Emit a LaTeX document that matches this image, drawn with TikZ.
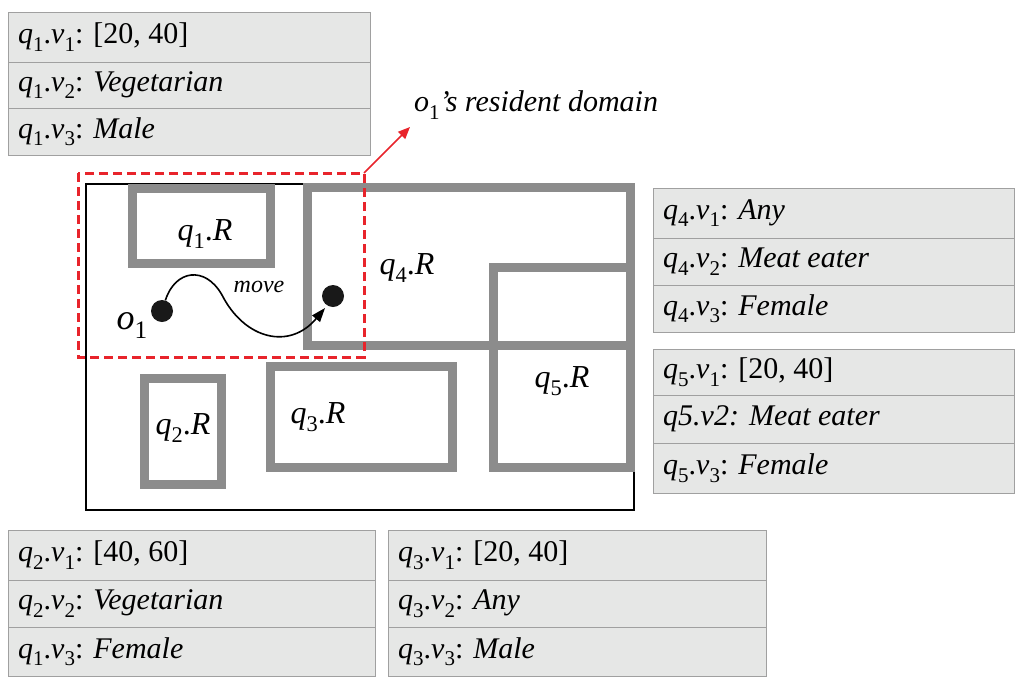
\documentclass[tikz,border=0pt]{standalone}
\usepackage{fontspec}
\setmainfont{Liberation Serif}
\usetikzlibrary{arrows.meta}
\definecolor{tbl}{HTML}{E6E7E6}
\definecolor{tbd}{HTML}{A0A0A0}
\definecolor{reg}{HTML}{8C8C8C}
\definecolor{rd}{HTML}{E8242B}
\newcommand{\sbs}[1]{\raisebox{-0.25em}{\scalebox{0.7}{\upshape #1}}}
\newcommand{\qv}[2]{\textit{q}\sbs{#1}.\textit{v}\sbs{#2}}
\newcommand{\qr}[1]{\textit{q}\sbs{#1}.\textit{R}}
\begin{document}
\begin{tikzpicture}[x=1pt,y=-1pt,
 cell/.style={draw=tbd,fill=tbl,line width=1pt},
 ct/.style={anchor=west,font=\fontsize{30}{30}\selectfont,inner sep=0},
 reg/.style={draw=reg,line width=9pt},
 lab/.style={font=\fontsize{32}{32}\selectfont,inner sep=0},
 dot/.style={circle,fill=black!90,minimum size=22pt,inner sep=0}]
\useasboundingbox (0,0) rectangle (1024,683);
\newcommand{\tblrow}[6]{\draw[cell] (#1,#3) rectangle (#2,#4);
 \node[ct] (#6) at ({#1+10},{(#3+#4)/2}) {#5};}
\tblrow{8}{370}{12}{62}{\qv11: [20, 40]}{t11}
\tblrow{8}{370}{62}{108}{\qv12: \textit{Vegetarian}}{t12}
\tblrow{8}{370}{108}{155}{\qv13: \textit{Male}}{t13}
\tblrow{653}{1014}{188}{238}{\qv41: \textit{Any}}{t41}
\tblrow{653}{1014}{238}{285}{\qv42: \textit{Meat eater}}{t42}
\tblrow{653}{1014}{285}{332}{\qv43: \textit{Female}}{t43}
\tblrow{653}{1014}{349}{395}{\qv51: [20, 40]}{t51}
\tblrow{653}{1014}{395}{443}{\textit{q5.v2: Meat eater}}{t52}
\tblrow{653}{1014}{443}{493}{\qv53: \textit{Female}}{t53}
\tblrow{8}{375}{530}{580}{\qv21: [40, 60]}{t21}
\tblrow{8}{375}{580}{627}{\qv22: \textit{Vegetarian}}{t22}
\tblrow{8}{375}{627}{676}{\qv13: \textit{Female}}{t23}
\tblrow{388}{766}{530}{580}{\qv31: [20, 40]}{t31}
\tblrow{388}{766}{580}{627}{\qv32: \textit{Any}}{t32}
\tblrow{388}{766}{627}{676}{\qv33: \textit{Male}}{t33}
\draw[line width=2.5pt] (86,184) rectangle (634,510);
\draw[reg] (132,188) rectangle (270,263);
\draw[reg] (307,187) rectangle (630,345);
\draw[reg] (493,267) rectangle (630,467);
\draw[reg] (144,378) rectangle (221,484);
\draw[reg] (270,366) rectangle (452,467);
\node[lab] (r1) at (205,234) {\qr1};
\node[lab] (r4) at (407,268) {\qr4};
\node[lab] (r5) at (562,381) {\qr5};
\node[lab] (r2) at (183,428) {\qr2};
\node[lab] (r3) at (318,417) {\qr3};
\draw[rd,line width=3pt,dash pattern=on 9pt off 5pt] (78,173) rectangle (364,357);
\coordinate (rc) at (364,173);
\node[anchor=west,inner sep=0,font=\fontsize{30}{30}\selectfont\itshape] (rdl) at (414,105) {o\sbs{1}'s resident domain};
\draw[rd,line width=1.5pt,-{Triangle[length=12pt,width=10pt]}] (rc) -- (410,127);
\node[dot] (o1) at (162,311) {};
\node[dot] (o2) at (333,296) {};
\node[inner sep=0,font=\fontsize{36}{36}\selectfont\itshape] (o1l) at (132,326) {o\sbs{1}};
\draw[line width=1.6pt,-{Triangle[length=14pt,width=10pt]}] (o1) .. controls (175,270) and (205,265) .. (222,295) .. controls (245,340) and (290,350) .. (325,308);
\node[inner sep=0,font=\fontsize{24}{24}\selectfont\itshape] (mv) at (259,287) {move};
\end{tikzpicture}
\end{document}
